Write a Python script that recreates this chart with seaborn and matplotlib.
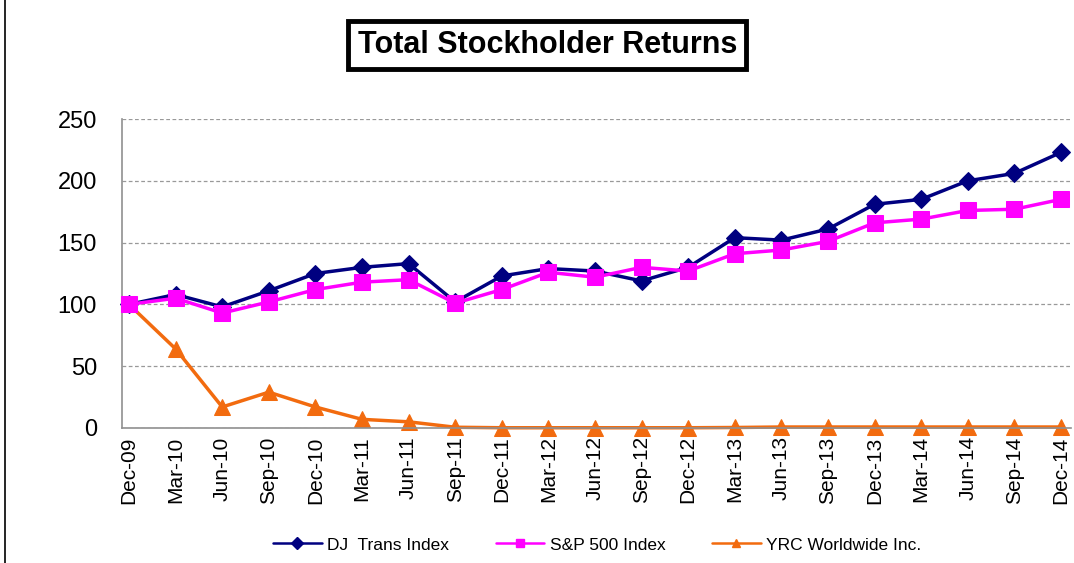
import pandas as pd
import numpy as np
import matplotlib.pyplot as plt
import seaborn as sns
from matplotlib.lines import Line2D

# Dados
quarters = ['Dec-09', 'Mar-10', 'Jun-10', 'Sep-10', 'Dec-10', 'Mar-11', 'Jun-11',
            'Sep-11', 'Dec-11', 'Mar-12', 'Jun-12', 'Sep-12', 'Dec-12', 'Mar-13',
            'Jun-13', 'Sep-13', 'Dec-13', 'Mar-14', 'Jun-14', 'Sep-14', 'Dec-14']
dj_trans = [100, 108, 98, 111, 125, 130, 133, 102, 123, 129, 127, 119, 130, 154,
            152, 161, 181, 185, 200, 206, 223]
sp500 = [100, 105, 93, 102, 112, 118, 120, 101, 112, 126, 122, 130, 127, 141,
         144, 151, 166, 169, 176, 177, 185]
yrc = [100, 64, 17, 29, 17, 7, 5, 0.6, 0.2, 0.2, 0.2, 0.2, 0.2, 0.4,
       0.8, 0.8, 0.8, 0.8, 0.8, 0.8, 0.8]

series_names = ['DJ  Trans Index', 'S&P 500 Index', 'YRC Worldwide Inc.']
colors = ['#000080', '#FF00FF', '#F26B0F']
markers = ['D', 's', '^']
msizes = [9, 12, 11]

df = pd.DataFrame({
    'Quarter': quarters * 3,
    'Pos': list(range(len(quarters))) * 3,
    'Value': dj_trans + sp500 + yrc,
    'Series': [series_names[0]] * len(quarters) + [series_names[1]] * len(quarters)
              + [series_names[2]] * len(quarters),
})

sns.set_style("white")
plt.rcParams['font.family'] = ['Liberation Sans', 'DejaVu Sans']

fig = plt.figure(figsize=(10.74, 5.63), dpi=100)
ax = fig.add_axes([0.1136, 0.2398, 0.8834, 0.5488])

for name, c, m, ms in zip(series_names, colors, markers, msizes):
    sub = df[df['Series'] == name]
    sns.lineplot(data=sub, x='Pos', y='Value', ax=ax, color=c, marker=m,
                 markersize=ms, markeredgecolor=c, linewidth=2.5, label=name,
                 legend=False, clip_on=False,
                 zorder=3 if name != series_names[2] else 2.5)

ax.set_xlim(-0.15, len(quarters) - 1 + 0.21)
ax.set_ylim(0, 250)
ax.set_yticks(np.arange(0, 251, 50))
ax.set_xticks(range(len(quarters)))
ax.set_xticklabels(quarters, rotation=90, fontsize=15)
ax.tick_params(axis='y', labelsize=17, length=0, pad=18, labelcolor='black')
ax.tick_params(axis='x', length=0, pad=6, labelcolor='black')
ax.set_xlabel('')
ax.set_ylabel('')

ax.yaxis.grid(True, linestyle=(0, (3, 2)), color='#999999', linewidth=0.9)
ax.set_axisbelow(True)
for s in ['top', 'right']:
    ax.spines[s].set_visible(False)
for s in ['left', 'bottom']:
    ax.spines[s].set_color('#909090')
    ax.spines[s].set_linewidth(1.2)

fig.text(0.5095, 0.92, 'Total Stockholder Returns', ha='center', va='center',
         fontsize=22, fontweight='bold', color='black',
         bbox=dict(boxstyle='square,pad=0.3', facecolor='white',
                   edgecolor='black', linewidth=3.5))

handles = [Line2D([0], [0], color=c, marker=m, markersize=6, linewidth=1.8)
           for c, m in zip(colors, markers)]
leg = fig.legend(handles, series_names, loc='center', bbox_to_anchor=(0.556, 0.032),
                 ncol=3, frameon=False, fontsize=12.5, handlelength=2.8,
                 handletextpad=0.3, columnspacing=2.7)
for t in leg.get_texts():
    t.set_color('black')

# borda esquerda da imagem
fig.add_artist(Line2D([0.005, 0.005], [0.0, 1.0], color='black', linewidth=1.2,
                      transform=fig.transFigure))

fig.savefig('out.png', dpi=100)
